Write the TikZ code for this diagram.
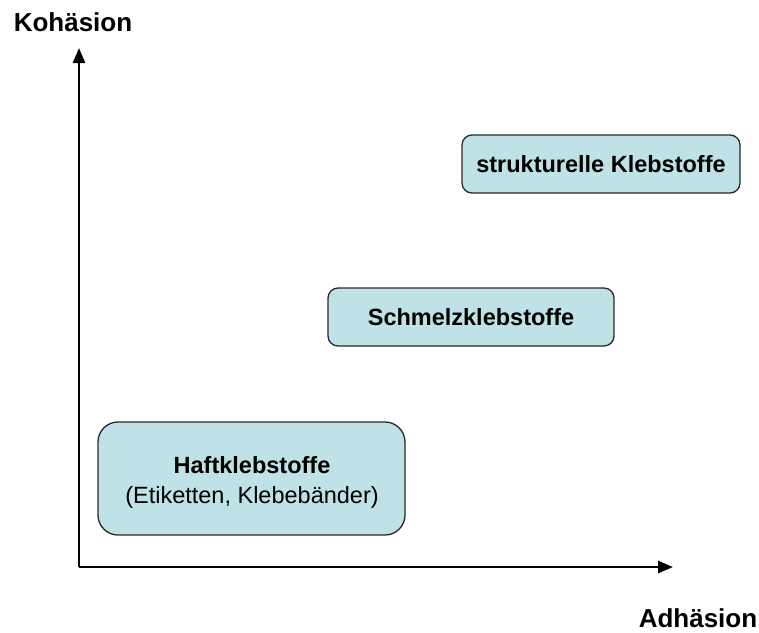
\documentclass[tikz,border=0pt]{standalone}
\usepackage{fontspec}
\setmainfont{Liberation Sans}
\usetikzlibrary{arrows.meta}
\definecolor{boxfill}{RGB}{190,226,229}
\definecolor{boxline}{RGB}{40,40,40}
\begin{document}
\begin{tikzpicture}[x=1pt,y=-1pt,
  cat/.style={draw=boxline,line width=1.3pt,fill=boxfill,rounded corners=10pt,inner sep=0pt,
    font=\fontsize{23.5}{30}\selectfont\bfseries,align=center},
  boxtext/.style={inner sep=0pt,font=\fontsize{23.5}{30}\selectfont\bfseries,align=center},
  axislabel/.style={font=\fontsize{26}{30}\selectfont\bfseries},
  axis/.style={line width=2.6pt,-{Triangle[length=15pt,width=12pt]}}]
\useasboundingbox (0,0) rectangle (759,632);
\coordinate (o) at (79,567);
\coordinate (ytop) at (79,48);
\coordinate (xend) at (673,567);
\draw[axis] (o) -- (ytop);
\draw[axis] (o) -- (xend);
\node[axislabel] (kl) at (73,22) {Kohäsion};
\node[axislabel] (al) at (698,618) {Adhäsion};
\node[cat,minimum width=278pt,minimum height=58pt] (sk) at (601,164) {strukturelle Klebstoffe};
\node[cat,minimum width=286pt,minimum height=58pt] (sz) at (471,317) {Schmelzklebstoffe};
\node[cat,rounded corners=20pt,minimum width=307pt,minimum height=113pt] (hk) at (251.5,478.5) {};
\node[boxtext] (hkt) at (252,482) {Haftklebstoffe\\\mdseries (Etiketten, Klebebänder)};
\end{tikzpicture}
\end{document}
